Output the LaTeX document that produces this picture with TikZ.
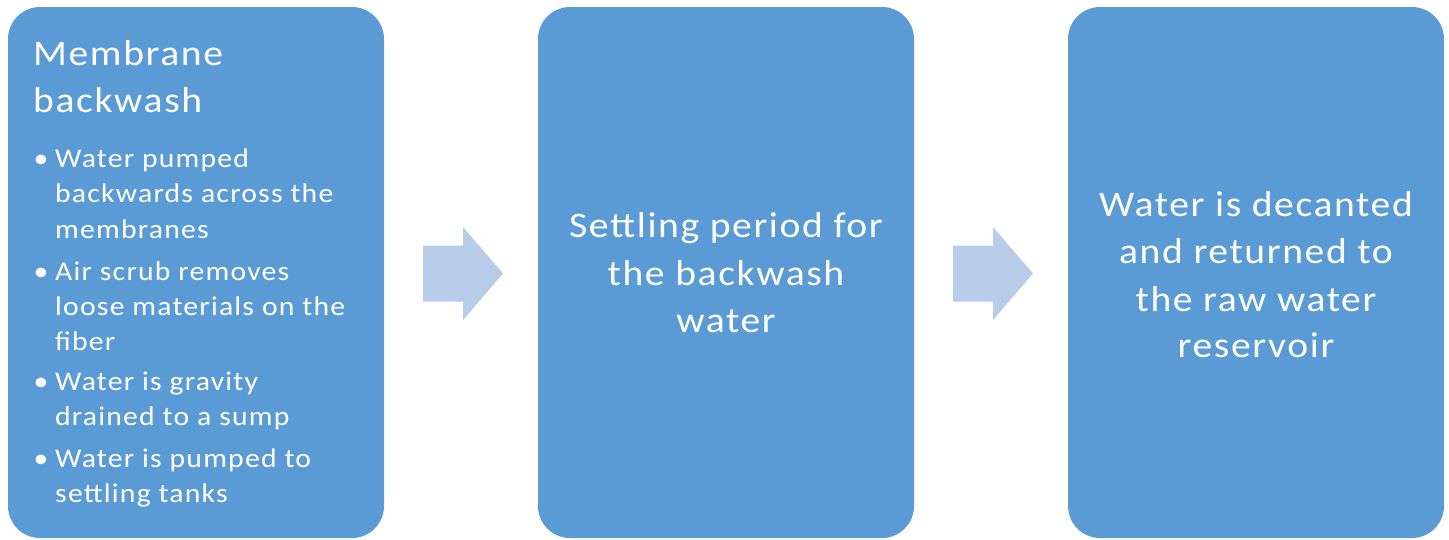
\documentclass[tikz,border=0pt]{standalone}
\usepackage{fontspec}
\setmainfont{Carlito}[FakeStretch=1.1, LetterSpace=4.5]
\definecolor{boxblue}{HTML}{5B9BD5}
\definecolor{arrowblue}{HTML}{B6CCE8}
\tikzset{
  box/.style={fill=boxblue, rounded corners=32pt, minimum width=376pt, minimum height=531pt, inner sep=0pt, outer sep=0pt},
  bigtxt/.style={text=white, inner sep=0pt, anchor=base, font=\fontsize{36}{47}\selectfont},
  titletxt/.style={text=white, inner sep=0pt, anchor=base west, font=\fontsize{36}{47}\selectfont},
  itemtxt/.style={text=white, inner sep=0pt, anchor=base west, font=\fontsize{27}{35}\selectfont},
  bullettxt/.style={text=white, inner sep=0pt, anchor=base, font=\fontsize{27}{35}\selectfont},
  flowarrow/.style={fill=arrowblue}
}
\begin{document}
\begin{tikzpicture}[x=1pt,y=-1pt]
\useasboundingbox (0,0) rectangle (1449,539);
\node[box] (box1) at (196,272.5) {};
\node[box] (box2) at (726,272.5) {};
\node[box] (box3) at (1256,272.5) {};

% arrows
\fill[flowarrow, shift={(box1.east)}] (39,-27) -- (79,-27) -- (79,-45.5) -- (119,1) -- (79,47.5) -- (79,29) -- (39,29) -- cycle;
\fill[flowarrow, shift={(box2.east)}] (39,-27) -- (79,-27) -- (79,-45.5) -- (119,1) -- (79,47.5) -- (79,29) -- (39,29) -- cycle;

% box 1
\node[titletxt] (t1) at (33,65) {Membrane};
\node[titletxt] (t2) at (33,112) {backwash};
\foreach \y/\n in {167/1, 280/2, 390/3, 467/4}
  \node[bullettxt] (bl\n) at (41,\y) {•};
\node[itemtxt] (i1) at (55,167) {Water pumped};
\node[itemtxt] (i2) at (55,202.5) {backwards across the};
\node[itemtxt] (i3) at (55,238) {membranes};
\node[itemtxt] (i4) at (55,280) {Air scrub removes};
\node[itemtxt] (i5) at (55,315) {loose materials on the};
\node[itemtxt] (i6) at (55,350) {fiber};
\node[itemtxt] (i7) at (55,390) {Water is gravity};
\node[itemtxt] (i8) at (55,425) {drained to a sump};
\node[itemtxt] (i9) at (55,467) {Water is pumped to};
\node[itemtxt] (i10) at (55,502) {settling tanks};

% box 2
\node[bigtxt] (s1) at (726,237) {Settling period for};
\node[bigtxt] (s2) at (726,285) {the backwash};
\node[bigtxt] (s3) at (726,332) {water};

% box 3
\node[bigtxt] (r1) at (1256,216) {Water is decanted};
\node[bigtxt] (r2) at (1256,263) {and returned to};
\node[bigtxt] (r3) at (1256,311) {the raw water};
\node[bigtxt] (r4) at (1256,357) {reservoir};
\end{tikzpicture}
\end{document}
